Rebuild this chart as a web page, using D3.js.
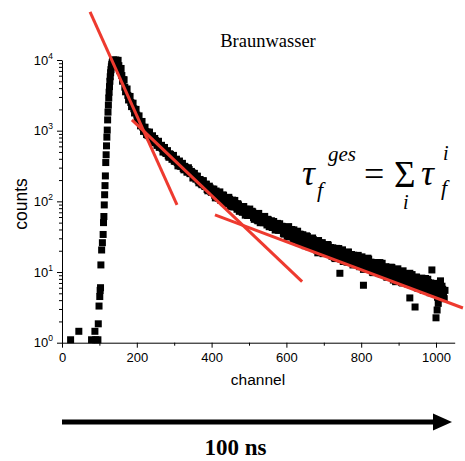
<!DOCTYPE html>
<html><head><meta charset="utf-8">
<script src="https://cdn.jsdelivr.net/npm/d3@7"></script>
<style>html,body{margin:0;padding:0;background:#fff}</style>
</head><body>
<svg id="chart" width="465" height="461"></svg>
<script>
// ---- data ----
const riseChannels = [23,45,79,88,90,96,97,99,101,102,103,104,106,108,110,111,112,113,114,115,116,117,118,119,120,121,122,123,124,125,126,127,128,129,130,131,132,133,134,135,136,137,138];
const riseCounts   = [1.1,1.45,1.1,1.45,1.1,1.1,1.85,3.3,4.5,5.5,6.0,12.6,20.5,26,34,50,61,89,124,167,229,354,456,610,810,1020,1420,1830,2300,2900,3500,4200,5000,5800,6600,7300,8000,8600,9100,9500,9800,9900,10000];

// decay, channels 140,144,...,1020
const decayStart = 140, decayStep = 4;
const decayCounts = [
 9770,10000,9660,8320,7500,6030,5250,4120,3760,3160,2950,2510,2370,2040,1930,1660,1570,1350,1290,1120,1080,966,955,
 944,804,822,728,776,673,685,582,615,560,573,493,505,440,471,431,442,372,386,353,366,316,337,291,313,290,262,282,247,254,217,228,226,196,204,178,194,169,174,147,156,155,134,140,
 122,140,121,129,104,119,122,100,107,92.5,107,92.7,104,83.6,92.3,77.3,89.1,81.8,73.5,83.8,71.0,77.4,63.4,71.8,65.5,72.4,58.9,63.8,65.9,53.0,60.7,54.1,60.7,50.4,54.6,46.3,54.5,47.9,53.1,42.7,47.8,42.1,48.8,39.2,42.5,44.4,35.2,40.5,36.5,
 41.4,31.4,36.9,32.1,39.5,29.3,34.4,26.1,34.4,28.6,33.7,25.8,28.6,31.8,22.8,28.0,23.8,28.7,21.8,25.1,18.7,25.8,21.6,26.0,18.9,22.8,19.4,24.0,17.8,20.0,22.0,16.0,19.4,16.6,21.5,16.4,19.0,14.1,18.8,16.0,19.0,13.8,16.7,14.3,17.3,13.2,15.2,17.2,11.9,14.8,
 12.4,15.0,11.4,13.5,15.2,11.1,13.1,9.8,13.6,11.1,13.4,9.5,11.3,13.3,9.5,11.5,8.5,11.6,9.5,11.7,8.3,10.1,7.3,10.7,8.3,9.8,7.1,10.4,7.9,9.2,6.8,8.5,7.1,9.2,6.5,7.7,8.5,5.9,7.7,6.5,7.8,5.8,8.1,6.0,7.1,5.1,6.7,6.3,5.3,6.9,4.4,6.1,4.6,6.3,4.9
];
// decay, in-between channels 142,146,...,1018
const decayStart2 = 142, decayStep2 = 4;
const decayCounts2 = [
 9770,9120,9890,7080,7590,5010,5250,3550,3890,2720,3050,2190,2450,1780,2000,1450,1620,1170,1350,977,1120,881,
 851,955,789,847,678,723,619,708,587,621,499,579,476,522,420,460,393,447,368,395,318,372,313,345,279,303,259,299,247,265,214,249,206,227,183,201,172,196,162,175,141,164,137,149,
 149,112,132,111,136,110,123,95.9,108,92.9,114,84.7,99.1,83.8,103,83.0,92.7,72.3,81.7,70.0,84.5,63.8,74.6,63.2,77.8,63.1,70.8,55.6,63.1,54.2,67.5,49.9,58.6,49.9,61.2,49.8,55.7,43.8,49.5,42.7,51.9,39.3,46.1,39.2,48.2,39.1,43.9,34.4,39.1,
 31.8,43.9,33.3,40.0,28.3,34.8,29.0,37.8,30.3,34.0,25.5,31.0,23.6,32.5,25.8,29.3,22.5,30.3,22.8,24.8,20.2,27.9,21.3,25.6,18.2,22.4,18.7,24.5,19.7,22.2,16.7,20.4,15.5,21.6,17.2,19.7,15.2,20.6,15.5,16.9,13.8,19.2,14.7,17.7,12.6,15.6,13.1,17.1,13.8,15.6,
 16.4,10.9,14.2,11.3,15.7,12.0,13.8,9.95,12.2,10.4,13.5,10.5,13.6,9.3,11.2,9.5,11.9,8.5,10.8,9.6,11.6,7.7,9.98,8.0,11.1,8.4,9.7,7.0,8.6,7.3,9.5,7.4,9.6,6.5,7.9,6.7,8.4,6.0,7.7,6.8,8.2,5.5,7.1,5.7,7.9,6.0,7.0,5.0,6.1,5.3,6.8,5.3,6.9,4.7,5.7
];
const outlierChannels = [743,806,930,944,989,1000,1003,1006,1012,1022,1024];
const outlierCounts   = [9.6,6.5,4.3,3.2,10.7,2.25,2.9,3.6,7.5,4.2,5.5];

// three exponential fit lines: start/end points (channel, counts)
const fitStartChannels = [75, 187, 409];
const fitStartCounts   = [47800, 1418, 64.5];
const fitEndChannels   = [307.5, 642, 1072];
const fitEndCounts     = [89, 7.3, 3.1];

const xMajorTicks = [0,200,400,600,800,1000];
const xMinorTicks = [100,300,500,700,900];
const yMajorTicks = [1,10,100,1000,10000];
const yExponents  = ["0","1","2","3","4"];
const titleText = "Braunwasser";
const xLabel = "channel", yLabel = "counts";
const arrowLabel = "100 ns";

// ---- drawing ----
const svg = d3.select("#chart");
const x = d3.scaleLinear().domain([0,1050]).range([62,454.7]);
const y = d3.scaleLog().domain([1,10000]).range([342.7,60]);

const sans = "'Liberation Sans', Arial, sans-serif";
const serif = "'Times New Roman', 'Liberation Serif', 'DejaVu Serif', serif";

// axes
const gx = svg.append("g").attr("transform","translate(0,342.7)")
  .call(d3.axisBottom(x).tickValues(xMajorTicks).tickSize(5).tickSizeOuter(0).tickFormat(d3.format("d")));
gx.selectAll("text").attr("font-family",sans).attr("font-size",13).attr("fill","#000").attr("dy","0.9em");
const gxm = svg.append("g").attr("transform","translate(0,342.7)")
  .call(d3.axisBottom(x).tickValues(xMinorTicks).tickSize(3).tickFormat(""));
gxm.select(".domain").remove();

const minorY = [];
yMajorTicks.slice(0,-1).forEach(d => { for (let k=2;k<=9;k++) minorY.push(d*k); });
const gy = svg.append("g").attr("transform","translate(62,0)")
  .call(d3.axisLeft(y).tickValues(yMajorTicks).tickSize(5).tickSizeOuter(0).tickFormat(""));
const gym = svg.append("g").attr("transform","translate(62,0)")
  .call(d3.axisLeft(y).tickValues(minorY).tickSize(3).tickFormat(""));
gym.select(".domain").remove();
svg.selectAll(".domain, .tick line").attr("stroke","#000").attr("stroke-width",1);

const ylab = svg.append("g").selectAll("text").data(yMajorTicks).join("text")
  .attr("x",53).attr("y",d=>y(d)+4.5).attr("text-anchor","end")
  .attr("font-family",sans).attr("font-size",13).attr("fill","#000");
ylab.append("tspan").text("10");
ylab.append("tspan").attr("font-size",8.5).attr("dy",-6).text((d,i)=>yExponents[i]);

svg.append("text").attr("x",258).attr("y",385).attr("text-anchor","middle")
  .attr("font-family",sans).attr("font-size",15.5).text(xLabel);
svg.append("text").attr("transform","translate(26.5,204) rotate(-90)").attr("text-anchor","middle")
  .attr("font-family",sans).attr("font-size",17.5).text(yLabel);

// data points
const pts = [];
riseChannels.forEach((c,i)=>pts.push([c,riseCounts[i]]));
decayCounts.forEach((v,i)=>pts.push([decayStart+i*decayStep, v]));
decayCounts2.forEach((v,i)=>pts.push([decayStart2+i*decayStep2, v]));
outlierChannels.forEach((c,i)=>pts.push([c,outlierCounts[i]]));
const ms = 7;
svg.append("g").selectAll("rect").data(pts).join("rect")
  .attr("x",d=>x(d[0])-ms/2).attr("y",d=>y(d[1])-ms/2)
  .attr("width",ms).attr("height",ms).attr("fill","#000");

// fit lines
svg.append("g").selectAll("line").data(fitStartChannels).join("line")
  .attr("x1",(d,i)=>x(d)).attr("y1",(d,i)=>y(fitStartCounts[i]))
  .attr("x2",(d,i)=>x(fitEndChannels[i])).attr("y2",(d,i)=>y(fitEndCounts[i]))
  .attr("stroke","#ee3a2f").attr("stroke-width",3);

// title
svg.append("text").attr("x",268).attr("y",46.5).attr("text-anchor","middle")
  .attr("font-family",serif).attr("font-size",18.5).text(titleText);

// formula
const f = svg.append("g").attr("font-family",serif).attr("fill","#000");
f.append("text").attr("x",302).attr("y",185).attr("font-size",36).attr("font-style","italic").text("τ");
f.append("text").attr("x",328).attr("y",161).attr("font-size",21).attr("font-style","italic").text("ges");
f.append("text").attr("x",317).attr("y",197).attr("font-size",22).attr("font-style","italic").text("f");
f.append("text").attr("x",364).attr("y",186).attr("font-size",36).text("=");
f.append("text").attr("x",394).attr("y",187).attr("font-size",37).text("Σ");
f.append("text").attr("x",403).attr("y",209).attr("font-size",20).attr("font-style","italic").text("i");
f.append("text").attr("x",421).attr("y",185).attr("font-size",36).attr("font-style","italic").text("τ");
f.append("text").attr("x",443).attr("y",160).attr("font-size",20).attr("font-style","italic").text("i");
f.append("text").attr("x",441).attr("y",195).attr("font-size",22).attr("font-style","italic").text("f");

// arrow
svg.append("line").attr("x1",62).attr("y1",422).attr("x2",436).attr("y2",422)
  .attr("stroke","#000").attr("stroke-width",5);
svg.append("path").attr("d","M433,413.5 L452,422 L433,430.5 Z").attr("fill","#000");
svg.append("text").attr("x",235.5).attr("y",455).attr("text-anchor","middle")
  .attr("font-family",serif).attr("font-weight","bold").attr("font-size",23).text(arrowLabel);
</script>
</body></html>
